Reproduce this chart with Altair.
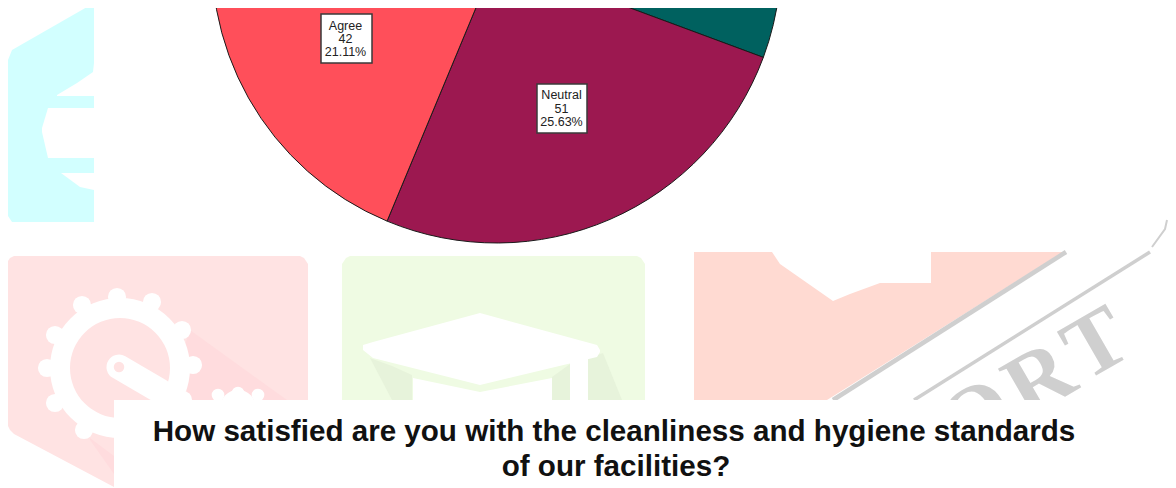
import altair as alt
import pandas as pd

# ---- pie data (counts; total 199) ----
pie_cat = ["Upper slice", "Neutral", "Agree", "Hidden slice"]
pie_val = [61, 51, 42, 45]
pie_col = ["#00615F", "#9C1850", "#FF4F5A", "#8A8A8A"]
pie_cx, pie_cy, pie_r = 496.5, -41.6, 284.6

# ---- value boxes ----
box_x1 = [321, 537]
box_x2 = [372, 587]
box_y1 = [14, 84]
box_y2 = [63, 133]
lab_txt = ["Agree", "42", "21.11%", "Neutral", "51", "25.63%"]
lab_x = [345.5, 345.5, 345.5, 561.5, 561.5, 561.5]
lab_y = [25.5, 38.5, 52, 95, 108.5, 122]

# ---- title ----
title_txt = ["How satisfied are you with the cleanliness and hygiene standards", "of our facilities?"]
title_x = [614, 616]
title_y = [432, 467]

# ---- watermark profiles: colour, x, top, bottom ----
areas = [
    ("#D2FFFF", [6, 12, 94], [65, 50, 3], [213, 222, 222]),
    ("#FFFFFF", [57, 77, 93, 94], [95, 83, 72, 63], [96, 96, 96, 96]),
    ("#FFFFFF", [42, 48, 94], [128, 108, 108], [132, 158, 158]),
    ("#FFFFFF", [61, 80, 94], [173, 173, 173], [173, 187, 190]),
    ("#FFE3E3", [6, 10, 14, 114], [264, 258, 256, 256], [422, 430, 434, 487]),
    ("#FFE3E3", [114, 300, 304, 308], [256, 256, 258, 264], [400, 400, 400, 400]),
    ("#FFDCDE", [185, 190, 287], [345, 330, 400], [385, 400, 400]),
    ("#FFDCDE", [90, 114], [438, 456], [440, 474]),
    ("#EFFBE3", [342, 346, 350, 637, 641, 645], [264, 258, 256, 256, 258, 264], [400, 400, 400, 400, 400, 400]),
    ("#E7F3DB", [370, 392, 412], [358, 366, 375], [358, 400, 400]),
    ("#E7F3DB", [552, 570], [377, 364], [400, 400]),
    ("#E7F3DB", [588, 603, 622], [358, 353, 400], [400, 400, 400]),
    ("#FFFFFF", [363, 373, 480, 597, 600], [345, 342, 313, 345, 350], [350, 358, 385, 357, 352]),
    ("#FFFFFF", [413, 480, 552], [378, 392, 378], [400, 400, 400]),
    ("#FFFFFF", [570, 588], [360, 356], [400, 400]),
    ("#FFDAD2", [694, 827, 1063], [252, 252, 252], [400, 400, 252]),
    ("#FFFFFF", [772, 780, 833, 850, 880, 928, 931], [252, 252, 252, 252, 252, 252, 252], [252, 264, 301, 294, 283, 283, 283]),
]

# gear: ring, tooth centres, arm
ring_x, ring_y, ring_inner, ring_outer = [120], [368], 50, 70
tooth_x = [117, 152, 182, 193, 183, 47, 55, 82, 55, 84, 150]
tooth_y = [297, 302, 330, 365, 400, 368, 335, 305, 403, 430, 425]
arm_x = [119, 160]
arm_y = [367, 391]
pin_x, pin_y = [119], [367]
small_x = [238, 218, 238, 258]
small_y = [408, 395, 393, 395]
small_size = [1300, 160, 160, 160]

# grey lines of the stamp
line_a_x, line_a_y = [833, 1066], [400, 252]
line_b_x, line_b_y = [914, 1150], [400, 252]
line_c_x, line_c_y = [1152, 1165, 1167], [247, 229, 220]
stamp_txt = ["O", "R", "T"]
stamp_x = [978, 1040, 1097]
stamp_y = [418, 381, 345]
cover_x = [114, 1176]
cover_y1 = [400, 400]
cover_y2 = [488, 488]

# ---- shared pixel-like scales ----
xs = alt.Scale(domain=[8, 1168], range=[0, 1160], nice=False, zero=False)
ys = alt.Scale(domain=[8, 488], range=[0, 480], nice=False, zero=False)
X = lambda f="x": alt.X(f"{f}:Q", scale=xs, axis=None)
Y = lambda f="y": alt.Y(f"{f}:Q", scale=ys, axis=None)

layers = []
for col, ax, at, ab in areas:
    d = pd.DataFrame({"x": ax, "top": at, "bot": ab})
    layers.append(alt.Chart(d).mark_area(color=col, interpolate="linear", opacity=1).encode(
        x=X(), y=Y("top"), y2="bot:Q"))

def line(lx, ly, col, w, cap="butt"):
    d = pd.DataFrame({"x": lx, "y": ly, "i": range(len(lx))})
    return alt.Chart(d).mark_line(color=col, strokeWidth=w, strokeCap=cap).encode(
        x=X(), y=Y(), order="i:Q")

# gear
layers.append(alt.Chart(pd.DataFrame({"x": ring_x, "y": ring_y})).mark_arc(
    innerRadius=ring_inner, outerRadius=ring_outer, color="#FFFFFF",
    theta=0, theta2=6.2832).encode(x=X(), y=Y()))
layers.append(alt.Chart(pd.DataFrame({"x": tooth_x, "y": tooth_y})).mark_circle(
    color="#FFFFFF", opacity=1, size=330).encode(x=X(), y=Y()))
layers.append(line(arm_x, arm_y, "#FFFFFF", 25, "round"))
layers.append(alt.Chart(pd.DataFrame({"x": pin_x, "y": pin_y})).mark_circle(
    color="#FFE3E3", opacity=1, size=110).encode(x=X(), y=Y()))
layers.append(alt.Chart(pd.DataFrame({"x": small_x, "y": small_y, "s": small_size})).mark_circle(
    color="#FFFFFF", opacity=1).encode(x=X(), y=Y(), size=alt.Size("s:Q", scale=None, legend=None)))

# stamp
layers.append(line(line_a_x, line_a_y, "#CFCFCF", 4.5))
layers.append(line(line_b_x, line_b_y, "#CFCFCF", 3.5))
layers.append(line(line_c_x, line_c_y, "#CFCFCF", 2))
layers.append(alt.Chart(pd.DataFrame({"x": stamp_x, "y": stamp_y, "t": stamp_txt})).mark_text(
    font="Liberation Serif", fontWeight="bold", fontSize=88, angle=330, color="#CFCFCF",
    align="center", baseline="middle").encode(x=X(), y=Y(), text="t:N"))
layers.append(alt.Chart(pd.DataFrame({"x": cover_x, "y": cover_y1, "y2": cover_y2})).mark_area(
    color="#FFFFFF", opacity=1).encode(x=X(), y=Y(), y2="y2:Q"))

# pie
pie_df = pd.DataFrame({"cat": pie_cat, "val": pie_val, "col": pie_col, "rank": range(4),
                       "x": pie_cx, "y": pie_cy})
layers.append(alt.Chart(pie_df).mark_arc(outerRadius=pie_r, stroke="#1A1A1A", strokeWidth=1).encode(
    x=alt.X("x:Q", scale=xs, axis=None), y=alt.Y("y:Q", scale=ys, axis=None),
    theta=alt.Theta("val:Q", stack=True, scale=alt.Scale(domain=[0, 199], range=[0, 6.28319])),
    order=alt.Order("rank:Q"),
    fill=alt.Fill("col:N", scale=None)))

# value boxes
box_df = pd.DataFrame({"x": box_x1, "x2": box_x2, "y": box_y1, "y2": box_y2})
layers.append(alt.Chart(box_df).mark_rect(fill="#FFFFFF", stroke="#3A3A3A", strokeWidth=1.5).encode(
    x=X(), x2="x2:Q", y=Y(), y2="y2:Q"))
lab_df = pd.DataFrame({"x": lab_x, "y": lab_y, "t": lab_txt})
layers.append(alt.Chart(lab_df).mark_text(font="Liberation Sans", fontSize=12.5, color="#222222",
    align="center", baseline="middle").encode(x=X(), y=Y(), text="t:N"))

# title
t_df = pd.DataFrame({"x": title_x, "y": title_y, "t": title_txt})
layers.append(alt.Chart(t_df).mark_text(font="Liberation Sans", fontWeight="bold", fontSize=29.6,
    color="#111111", align="center", baseline="middle").encode(x=X(), y=Y(), text="t:N"))

chart = alt.layer(*layers).properties(width=1160, height=480, padding=0, background="#FFFFFF",
    autosize=alt.AutoSizeParams(type="none")
    ).configure_view(stroke=None).resolve_scale(theta="independent")
chart.save("out.html", embed_options={"renderer": "svg", "actions": False})
